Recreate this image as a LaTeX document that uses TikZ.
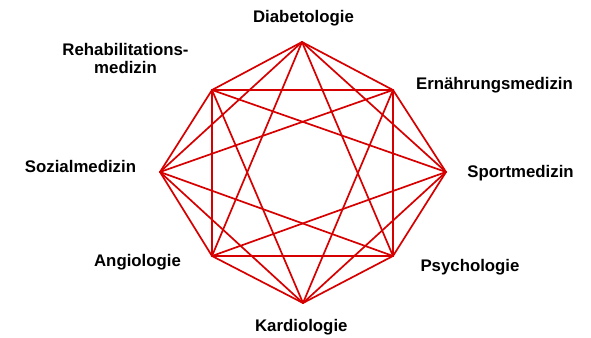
\documentclass[tikz,border=0pt]{standalone}
\usepackage{fontspec}
\setmainfont{Liberation Sans}
\usetikzlibrary{positioning}

\definecolor{netred}{RGB}{214,0,0}

\begin{document}
\begin{tikzpicture}[
  x=1pt, y=-1pt,
  every node/.style={font=\fontsize{16.8}{18.7}\selectfont\bfseries, inner sep=0pt},
  fach/.style={anchor=base, align=center},
  link/.style={netred, line width=1.7pt, line join=round, line cap=round}
]
\useasboundingbox (0,0) rectangle (591,337);

% corners of the octagon, clockwise from the top
\coordinate (v0) at (302,42);
\coordinate (v1) at (393,90);
\coordinate (v2) at (446,172);
\coordinate (v3) at (393,256);
\coordinate (v4) at (303,303);
\coordinate (v5) at (212,256);
\coordinate (v6) at (160,172);
\coordinate (v7) at (212,90);

% every corner to every other one, except the opposite corner
\foreach \i in {0,...,7} {
  \foreach \j in {1,2,3} {
    \pgfmathtruncatemacro{\k}{mod(\i+\j,8)}
    \draw[link] (v\i) -- (v\k);
  }
}

% subject labels
\node[fach] (diab)  at (303.5,22.7) {Diabetologie};
\node[fach] (ernae) at (494.5,89)   {Ernährungsmedizin};
\node[fach] (sport) at (520.5,177.3) {Sportmedizin};
\node[fach] (psych) at (470,271.7)  {Psychologie};
\node[fach] (kardio) at (301.3,331) {Kardiologie};
\node[fach] (angio) at (137.5,266)  {Angiologie};
\node[fach] (sozial) at (80.5,172.7) {Sozialmedizin};
\node[fach] (reha)  at (125.5,74)   {Rehabilitations-\\medizin};

\end{tikzpicture}
\end{document}
